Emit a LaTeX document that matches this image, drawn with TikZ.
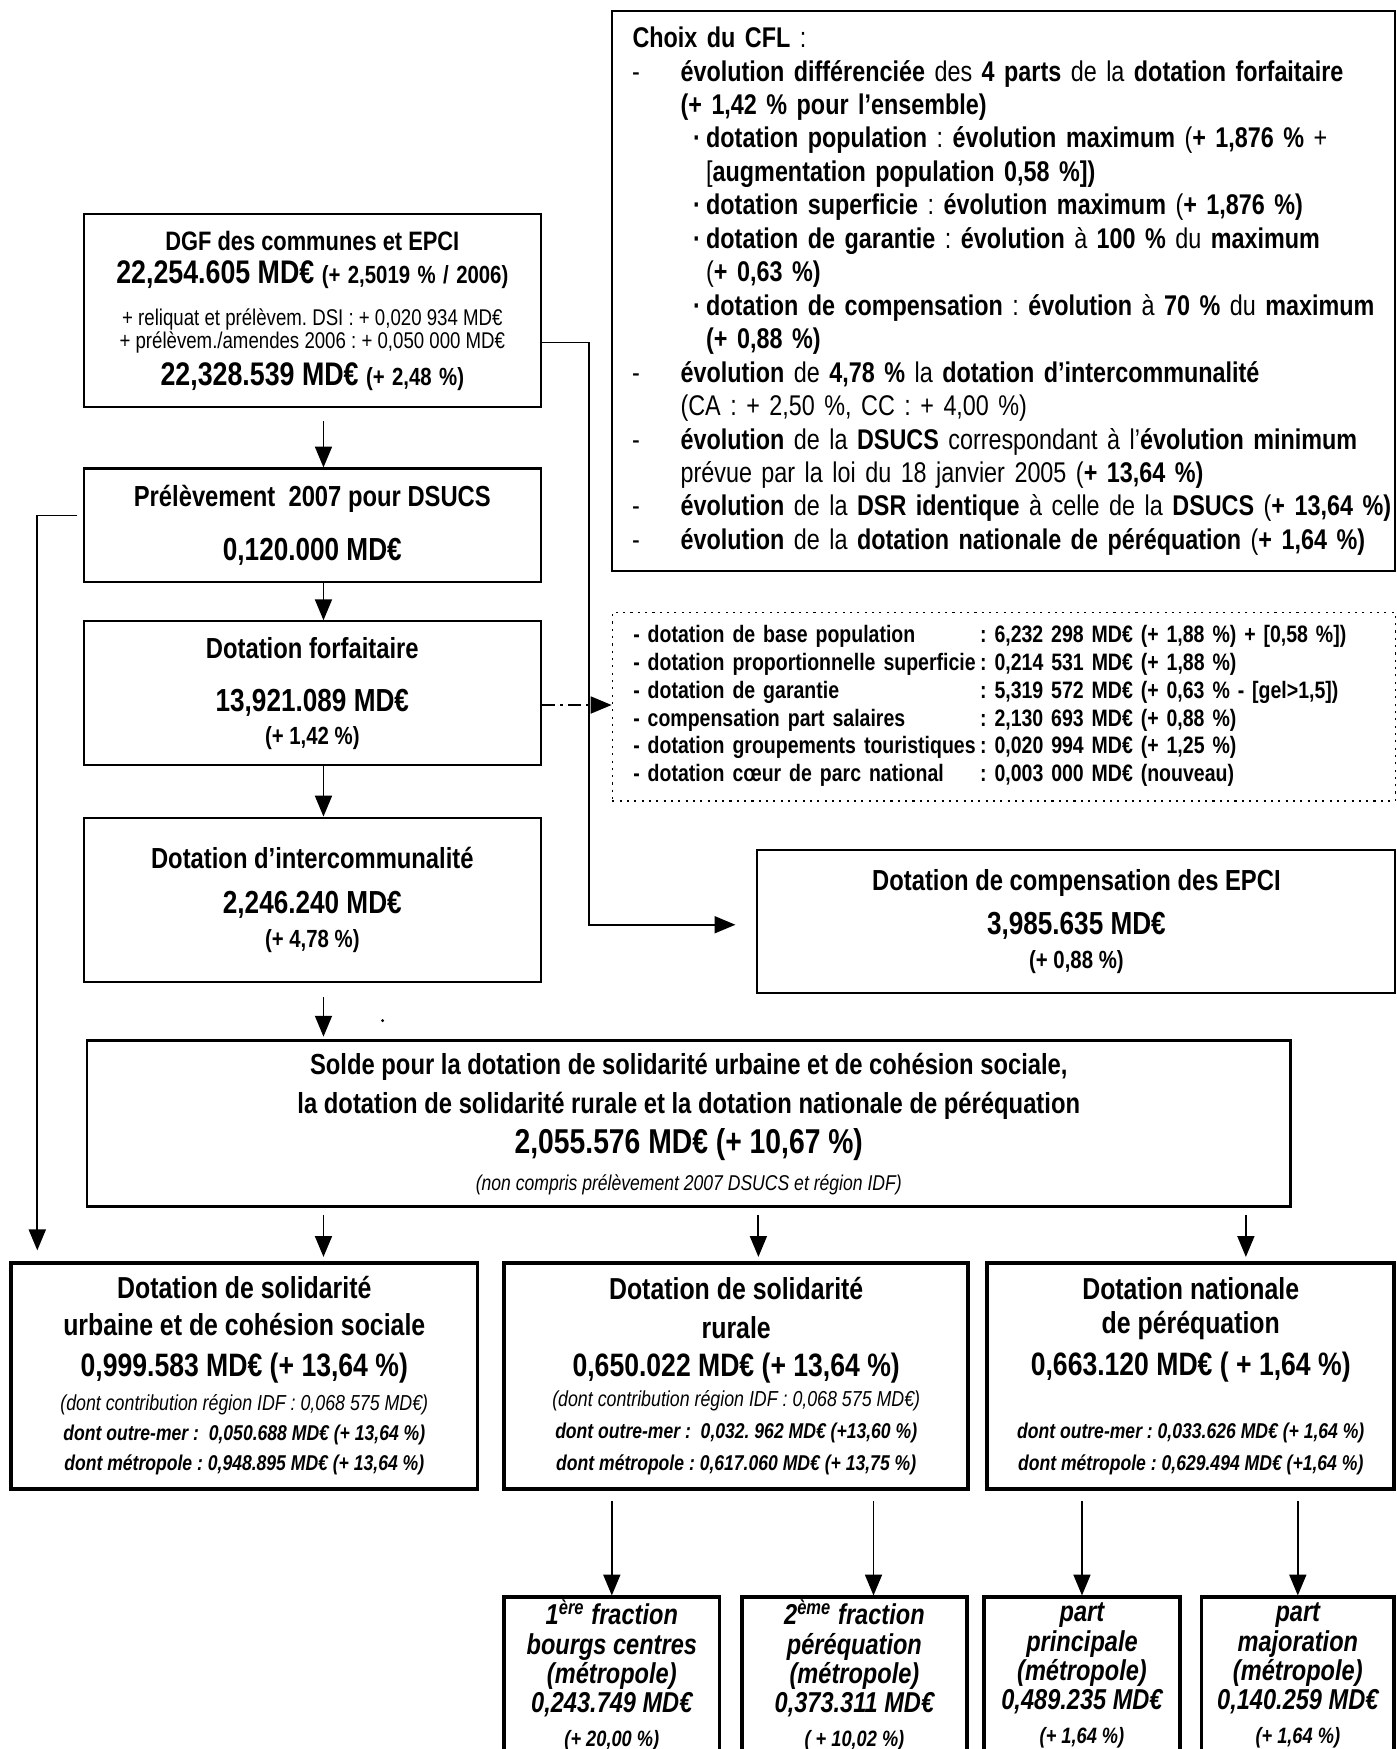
\documentclass[tikz,border=0pt]{standalone}
\usepackage{fontspec}
\setmainfont{Liberation Sans}[FakeStretch=0.82]
\usetikzlibrary{arrows.meta, positioning}
\newcommand{\esp}{\spaceskip=0.228em\relax}
\newcommand{\lig}[3]{{\fontsize{#1}{#2}\selectfont\esp #3\par}}
\newcommand{\tiret}[1]{{\leftskip=26.1pt\noindent\llap{-\hspace{15.6pt}}#1\par}}
\newcommand{\puce}[1]{{\leftskip=35.9pt\noindent\llap{\textbf{·}\hspace{2pt}}#1\par}}
\lineskiplimit=-20pt
\frenchspacing

\begin{document}
\begin{tikzpicture}[x=0.015cm, y=-0.015cm,
    cadre/.style={draw, line width=0.8pt, inner sep=0pt, align=center},
    epais/.style={cadre, line width=1.4pt},
    sz/.style 2 args={minimum width=#1*0.015cm, minimum height=#2*0.015cm, text width=#1*0.015cm-6pt},
    fleche/.style={-{Triangle[width=6.5pt,length=8pt]}, line width=0.7pt}
]
    \clip (0,0) rectangle (1252,1568);

    % choix du CFL
    \node[cadre, sz={702}{502}, align=left, text width=702*0.015cm, font=\fontsize{10.9}{12.8}\selectfont\esp] (cfl) at (900,261) {%
        \noindent\hspace*{7.7pt}\textbf{Choix du CFL} :\par
        \tiret{\textbf{évolution différenciée} des \textbf{4 parts} de la \textbf{dotation forfaitaire}\\ \textbf{(+ 1,42 \% pour l’ensemble)}}
        \puce{\textbf{dotation population} : \textbf{évolution maximum} (\textbf{+ 1,876 \%} +\\ {[}\textbf{augmentation population 0,58 \%{]})}}
        \puce{\textbf{dotation superficie} : \textbf{évolution maximum} (\textbf{+ 1,876 \%)}}
        \puce{\textbf{dotation de garantie} : \textbf{évolution} à \textbf{100 \%} du \textbf{maximum}\\ (\textbf{+ 0,63 \%)}}
        \puce{\textbf{dotation de compensation} : \textbf{évolution} à \textbf{70 \%} du \textbf{maximum}\\ \textbf{(+ 0,88 \%)}}
        \tiret{\textbf{évolution} de \textbf{4,78 \%} la \textbf{dotation d’intercommunalité}\\ (CA : + 2,50 \%, CC : + 4,00 \%)}
        \tiret{\textbf{évolution} de la \textbf{DSUCS} correspondant à l’\textbf{évolution minimum}\\ prévue par la loi du 18 janvier 2005 (\textbf{+ 13,64 \%)}}
        \tiret{\textbf{évolution} de la \textbf{DSR identique} à celle de la \textbf{DSUCS} (\textbf{+ 13,64 \%)}}
        \tiret{\textbf{évolution} de la \textbf{dotation nationale de péréquation} (\textbf{+ 1,64 \%)}}};

    % colonne de gauche
    \node[cadre, sz={410}{173}] (dgf) at (280,278.5) {%
        \lig{10.2}{13}{\bfseries DGF des communes et EPCI}
        \lig{12.5}{12.6}{\bfseries 22,254.605 MD€ {\fontsize{9.5}{10}\selectfont(+ 2,5019 \% / 2006)}}
        \lig{8.7}{16}{+ reliquat et prélèvem. DSI : + 0,020 934 MD€}
        \lig{8.7}{9}{+ prélèvem./amendes 2006 : + 0,050 000 MD€}
        \lig{12.5}{13.9}{\bfseries 22,328.539 MD€ {\fontsize{9.5}{10}\selectfont(+ 2,48 \%)}}};
    \node[cadre, sz={410}{102}] (prel) at (280,471) {%
        \lig{11.1}{12}{\bfseries Prélèvement\ \ 2007 pour DSUCS}
        \lig{12.2}{20.9}{\bfseries 0,120.000 MD€}};
    \node[cadre, sz={410}{129}] (forf) at (280,621.5) {%
        \lig{11.1}{12}{\bfseries Dotation forfaitaire}
        \lig{12.2}{20.5}{\bfseries 13,921.089 MD€}
        \lig{9.5}{12.4}{\bfseries (+ 1,42 \%)}};
    \node[cadre, sz={410}{147}] (inter) at (280,806.5) {%
        \lig{11.1}{12}{\bfseries Dotation d’intercommunalité}
        \lig{12.2}{17.5}{\bfseries 2,246.240 MD€}
        \lig{9.5}{12.8}{\bfseries (+ 4,78 \%)}};

    % detail de la dotation forfaitaire
    \node[cadre, dotted, line width=0.6pt, sz={702}{169}, align=left, text width=702*0.015cm, font=\fontsize{9.1}{10.6}\selectfont\bfseries\esp] (detail) at (900,633.5) {%
        \noindent\hspace*{8pt}\begin{tabular}{@{}p{132.7pt}@{}l@{}}
        - dotation de base population & : 6,232 298 MD€ (+ 1,88 \%) + [0,58 \%]) \\
        - dotation proportionnelle superficie & : 0,214 531 MD€ (+ 1,88 \%) \\
        - dotation de garantie & : 5,319 572 MD€ (+ 0,63 \% - [gel>1,5]) \\
        - compensation part salaires & : 2,130 693 MD€ (+ 0,88 \%) \\
        - dotation groupements touristiques & : 0,020 994 MD€ (+ 1,25 \%) \\
        - dotation cœur de parc national & : 0,003 000 MD€ (nouveau)
        \end{tabular}};

    \node[cadre, sz={572}{128}] (comp) at (965,826) {%
        \lig{11.1}{12}{\bfseries Dotation de compensation des EPCI}
        \lig{12.2}{17.1}{\bfseries 3,985.635 MD€}
        \lig{9.5}{12.8}{\bfseries (+ 0,88 \%)}};

    % solde
    \node[cadre, line width=1.1pt, sz={1079}{149}] (solde) at (617.5,1007.5) {%
        \lig{11.1}{12}{\bfseries Solde pour la dotation de solidarité urbaine et de cohésion sociale,}
        \lig{11.1}{15}{\bfseries la dotation de solidarité rurale et la dotation nationale de péréquation}
        \lig{13.2}{15.4}{\bfseries 2,055.576 MD€ (+ 10,67 \%)}
        \lig{8.2}{14.1}{\itshape (non compris prélèvement 2007 DSUCS et région IDF)}};
    \fill (343,915) circle (0.6pt);

    % les trois dotations de perequation
    \node[epais, sz={418}{203}] (dsucs) at (219,1233.5) {%
        \lig{11.6}{14}{\bfseries Dotation de solidarité}
        \lig{11.6}{14.1}{\bfseries urbaine et de cohésion sociale}
        \lig{12.4}{15.4}{\bfseries 0,999.583 MD€ (+ 13,64 \%)}
        \lig{8.3}{13.2}{\itshape (dont contribution région IDF : 0,068 575 MD€)}
        \lig{8.2}{11.5}{\bfseries\itshape dont outre-mer :\ \ 0,050.688 MD€ (+ 13,64 \%)}
        \lig{8.2}{11.5}{\bfseries\itshape dont métropole : 0,948.895 MD€ (+ 13,64 \%)}};
    \node[epais, sz={416}{203}] (dsr) at (660,1233.5) {%
        \lig{11.6}{14}{\bfseries Dotation de solidarité}
        \lig{11.6}{14.9}{\bfseries rurale}
        \lig{12.4}{14.5}{\bfseries 0,650.022 MD€ (+ 13,64 \%)}
        \lig{8.3}{11.5}{\itshape (dont contribution région IDF : 0,068 575 MD€)}
        \lig{8.2}{12.4}{\bfseries\itshape dont outre-mer :\ \ 0,032. 962 MD€ (+13,60 \%)}
        \lig{8.2}{12}{\bfseries\itshape dont métropole : 0,617.060 MD€ (+ 13,75 \%)}};
    \node[epais, sz={365}{203}] (dnp) at (1067.5,1233.5) {%
        \lig{11.6}{14}{\bfseries Dotation nationale}
        \lig{11.6}{13.2}{\bfseries de péréquation}
        \lig{12.4}{15.8}{\bfseries 0,663.120 MD€ ( + 1,64 \%)}
        \lig{8.2}{24.3}{\bfseries\itshape dont outre-mer : 0,033.626 MD€ (+ 1,64 \%)}
        \lig{8.2}{12}{\bfseries\itshape dont métropole : 0,629.494 MD€ (+1,64 \%)}};

    % fractions et parts
    \node[epais, sz={193}{140}, font=\bfseries\itshape] (f1) at (548.5,1502) {%
        \lig{11}{12}{1\textsuperscript{ère} fraction}
        \lig{11}{11.5}{bourgs centres}
        \lig{11}{11.1}{(métropole)}
        \lig{11}{11.1}{0,243.749 MD€}
        \lig{8.5}{12.8}{(+ 20,00 \%)}};
    \node[epais, sz={202}{140}, font=\bfseries\itshape] (f2) at (766,1502) {%
        \lig{11}{12}{2\textsuperscript{ème} fraction}
        \lig{11}{11.5}{péréquation}
        \lig{11}{11.1}{(métropole)}
        \lig{11}{11.1}{0,373.311 MD€}
        \lig{8.5}{12.8}{( + 10,02 \%)}};
    \node[epais, sz={176}{140}, font=\bfseries\itshape] (f3) at (970,1502) {%
        \lig{11}{12}{part}
        \lig{11}{11.5}{principale}
        \lig{11}{11.1}{(métropole)}
        \lig{11}{11.1}{0,489.235 MD€}
        \lig{8.5}{12.8}{(+ 1,64 \%)}};
    \node[epais, sz={173}{140}, font=\bfseries\itshape] (f4) at (1163.5,1502) {%
        \lig{11}{12}{part}
        \lig{11}{11.5}{majoration}
        \lig{11}{11.1}{(métropole)}
        \lig{11}{11.1}{0,140.259 MD€}
        \lig{8.5}{12.8}{(+ 1,64 \%)}};

    % connecteurs
    \coordinate (spine) at (290,0);
    \draw[fleche, shorten <=5pt] (dgf.south -| spine) -- (prel.north -| spine);
    \draw[fleche] (prel.south -| spine) -- (forf.north -| spine);
    \draw[fleche] (forf.south -| spine) -- (inter.north -| spine);
    \draw[fleche, shorten <=5.5pt, shorten >=1pt] (inter.south -| spine) -- (solde.north -| spine);
    \draw[fleche, shorten <=2.5pt, shorten >=1.5pt] (solde.south -| spine) -- (dsucs.north -| spine);
    \draw[fleche, shorten <=2.5pt, shorten >=1.5pt] ([xshift=8.5pt]dsr.north |- solde.south) -- ([xshift=8.5pt]dsr.north);
    \draw[fleche, shorten <=2.5pt, shorten >=1.5pt] ([xshift=21.1pt]dnp.north |- solde.south) -- ([xshift=21.1pt]dnp.north);
    \draw[fleche, shorten >=4pt] ([xshift=-2pt,yshift=3.8pt]prel.west) -| ([xshift=10.7pt]dsucs.north west);
    \draw[fleche, shorten >=8pt] ([yshift=-12.2pt]dgf.east) -- ++(42,0) |- ([yshift=-1.3pt]comp.west);
    \draw[fleche, dash pattern=on 5pt off 2pt on 1pt off 2pt] ([yshift=-4.5pt]forf.east) -- ([yshift=-4.5pt]forf.east -| detail.west);
    \draw[fleche, shorten <=4pt] (dsr.south -| f1.north) -- (f1.north);
    \draw[fleche, shorten <=4pt] ([xshift=7.3pt]f2.north |- dsr.south) -- ([xshift=7.3pt]f2.north);
    \draw[fleche, shorten <=4pt] (dnp.south -| f3.north) -- (f3.north);
    \draw[fleche, shorten <=4pt] (dnp.south -| f4.north) -- (f4.north);
\end{tikzpicture}
\end{document}
